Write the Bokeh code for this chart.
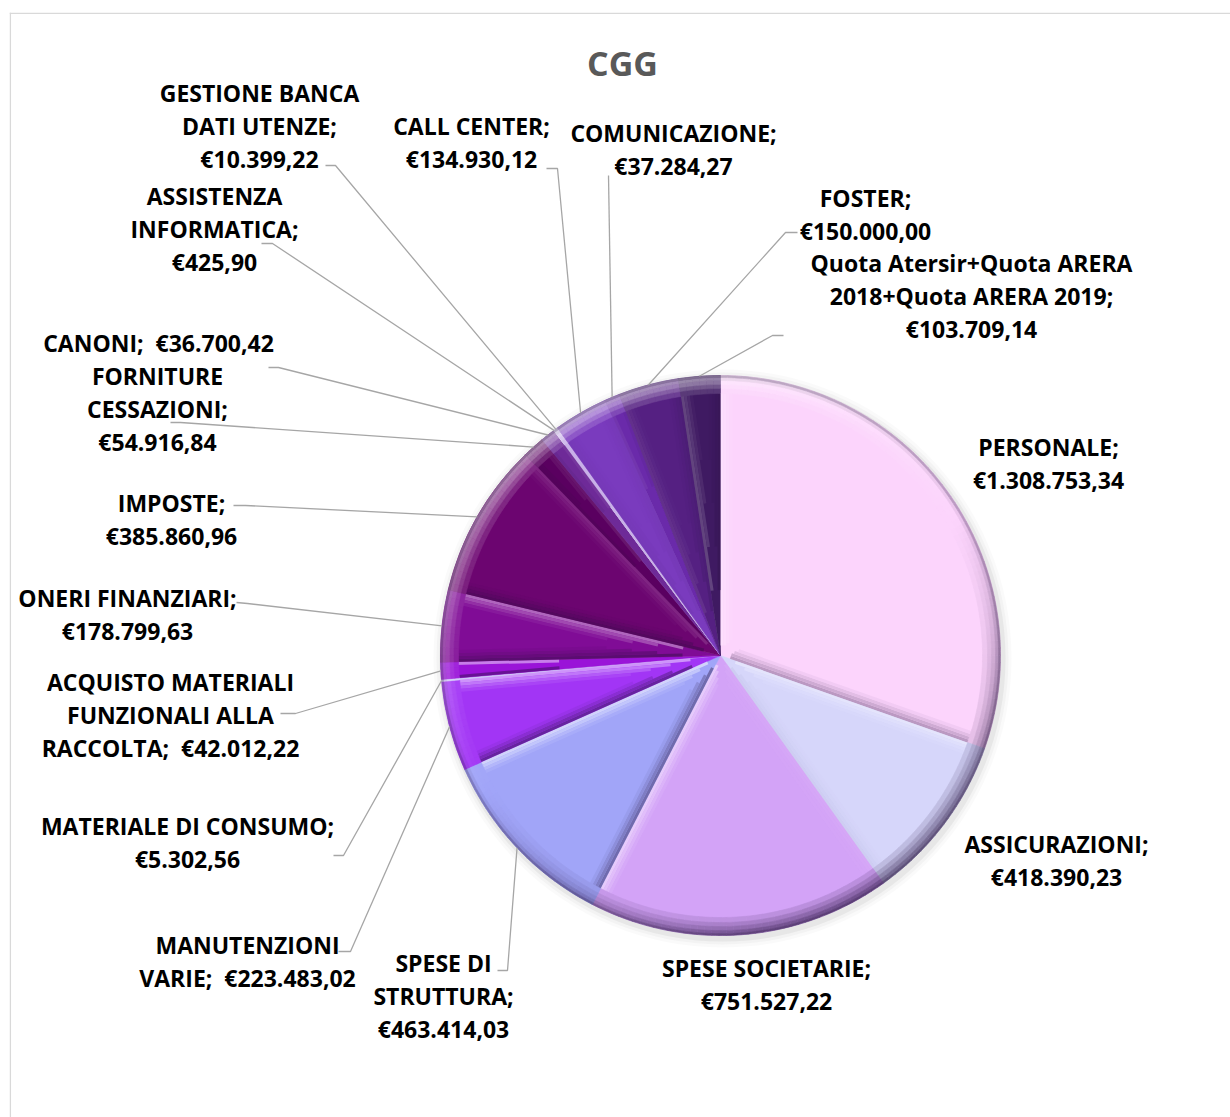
import math
from bokeh.plotting import figure
from bokeh.models import Range1d, ColumnDataSource, Span
from bokeh.embed import file_html
from bokeh.resources import INLINE
from bokeh.core.properties import value

# ---------------- data ----------------
chart_title = "CGG"
categories = [
    "PERSONALE", "ASSICURAZIONI", "SPESE SOCIETARIE", "SPESE DI\nSTRUTTURA",
    "MANUTENZIONI\nVARIE", "MATERIALE DI CONSUMO",
    "ACQUISTO MATERIALI\nFUNZIONALI ALLA\nRACCOLTA", "ONERI FINANZIARI",
    "IMPOSTE", "FORNITURE\nCESSAZIONI", "CANONI", "ASSISTENZA\nINFORMATICA",
    "GESTIONE BANCA\nDATI UTENZE", "CALL CENTER", "COMUNICAZIONE", "FOSTER",
    "Quota Atersir+Quota ARERA\n2018+Quota ARERA 2019",
]
values = [1308753.34, 418390.23, 751527.22, 463414.03, 223483.02, 5302.56,
          42012.22, 178799.63, 385860.96, 54916.84, 36700.42, 425.90,
          10399.22, 134930.12, 37284.27, 150000.00, 103709.14]
value_sep = ["\n", "\n", "\n", "\n", "  ", "\n", "  ", "\n", "\n", "\n", "  ",
             "\n", "\n", "\n", "\n", "\n", "\n"]
colors = ["#FCD4FC", "#D6D6FA", "#D3A3F7", "#A1A5F8", "#A235F5", "#D0C8F8",
          "#9A14D8", "#800C96", "#6C0570", "#5A0060", "#6E2A98", "#E4E0F4",
          "#C8B0E8", "#7A3BBE", "#6A2AAA", "#552082", "#3F1A62"]

# ---------------- layout (image pixel coords) ----------------
CX, CY, R = 720, 655, 280
LINE_H = 33
label_centers = [(1048, 462.5), (1056, 859.5), (766, 984), (443, 995.5),
                 (247, 961), (187, 842), (170, 714), (127, 614), (171, 518.5),
                 (157, 408), (158, 342), (214, 228.5), (259, 125),
                 (471, 141.5), (673, 148.5), (865, 213.5), (971, 295.5)]
leader_start = [None, None, None, (497, 970, 507, 970), (338, 951, 350, 951),
                (333, 855, 343, 855), (280, 713, 295, 713), (236, 602, 247, 603),
                (233, 505, 245, 505), (170, 422, 180, 422), (268, 367, 278, 367),
                (261, 243, 272, 243), (325, 165, 335, 165), (546, 168, 557, 168),
                (608, 175, 608, 175), (797, 232, 785, 232), (783, 335, 772, 335)]
FONT = "Open Sans"
FS = "23px"


def eur(v):
    s = f"{v:,.2f}"
    return "€" + s.replace(",", "X").replace(".", ",").replace("X", ".")


def hex2rgb(h):
    h = h.lstrip("#")
    return [int(h[i:i + 2], 16) for i in (0, 2, 4)]


def mix(c, t, f):
    a, b = hex2rgb(c), hex2rgb(t)
    f = max(0.0, min(1.0, f))
    return "#%02x%02x%02x" % tuple(int(round(a[k] + (b[k] - a[k]) * f)) for k in range(3))


DARK = "#24103a"


def shade(c, d):
    if d >= 0:
        return mix(c, "#FFFFFF", 0.6 * d)
    return mix(c, DARK, 0.55 * (-d))


LX, LY = -0.5, -0.866  # light direction (image coords, y down)

total = sum(values)
t_start, t_end = [], []
acc = 0.0
for v in values:
    t_start.append(acc / total * 2 * math.pi)
    acc += v
    t_end.append(acc / total * 2 * math.pi)

p = figure(width=1230, height=1117, x_range=Range1d(9, 1230), y_range=Range1d(-1117, -12),
           output_backend="svg", toolbar_location=None, x_axis_location=None,
           y_axis_location=None, min_border_left=9, min_border_top=12,
           min_border_right=0, min_border_bottom=0)
p.grid.visible = False
p.outline_line_color = None
p.background_fill_color = "white"
p.add_layout(Span(location=9.8, dimension="height", line_color="#D9D9D9", line_width=1.5))
p.add_layout(Span(location=-12.8, dimension="width", line_color="#D9D9D9", line_width=1.5))

# shadow
for k, a in [(9, 0.04), (6, 0.06), (3, 0.10)]:
    p.circle(x=CX + 2, y=-(CY + 3), radius=R + k, fill_color="#808080", fill_alpha=a,
             line_color=None)

# base wedges
src = ColumnDataSource(dict(
    s=[math.pi / 2 - b for b in t_end],
    e=[math.pi / 2 - a for a in t_start],
    c=colors))
p.wedge(x=CX, y=-CY, radius=R, start_angle="s", end_angle="e", direction="anticlock",
        fill_color="c", line_color="c", line_width=0.5, source=src)

# edge bevel bands
bx0, by0, bx1, by1, bc, bw = [], [], [], [], [], []
for i, c in enumerate(colors):
    ang = t_end[i] - t_start[i]
    if ang < 0.02:
        continue
    for t, sgn in ((t_start[i], -1), (t_end[i], 1)):
        nx, ny = sgn * math.cos(t), sgn * math.sin(t)  # outward normal
        d = nx * LX + ny * LY
        ux, uy = math.sin(t), -math.cos(t)
        for off, w, st in ((1.5, 3, 1.0), (4.5, 3, 0.7), (7.5, 3, 0.4), (10.5, 3, 0.15)):
            rmin = max(10, (off + w) * 2.2 / ang)
            if rmin > 240:
                continue
            ox, oy = -nx * off, -ny * off
            bx0.append(CX + rmin * ux + ox); by0.append(-(CY + rmin * uy + oy))
            bx1.append(CX + 266 * ux + ox); by1.append(-(CY + 266 * uy + oy))
            bc.append(shade(c, d * st)); bw.append(w)
p.segment(x0=bx0, y0=by0, x1=bx1, y1=by1, line_color=bc, line_width=bw, line_alpha=0.85)

# rim bevel rings
ring_edges = [262, 267, 271, 275, 278, 280]
ring_strength = [0.25, 0.5, 0.75, 0.95, 1.0]
ring_dark = [0.0, 0.0, 0.0, 0.08, 0.3]
rr = dict(r0=[], r1=[], s=[], e=[], c=[])
for i, c in enumerate(colors):
    deg = math.degrees(t_end[i] - t_start[i])
    n = max(1, int(math.ceil(deg / 1.5)))
    for k in range(n):
        ta = t_start[i] + (t_end[i] - t_start[i]) * k / n
        tb = t_start[i] + (t_end[i] - t_start[i]) * (k + 1) / n
        tm = (ta + tb) / 2
        d = math.sin(tm) * LX - math.cos(tm) * LY
        for j in range(len(ring_strength)):
            col = mix(shade(c, d * ring_strength[j]), DARK, ring_dark[j])
            rr["r0"].append(ring_edges[j]); rr["r1"].append(ring_edges[j + 1])
            rr["s"].append(math.pi / 2 - tb); rr["e"].append(math.pi / 2 - ta)
            rr["c"].append(col)
p.annular_wedge(x=CX, y=-CY, inner_radius="r0", outer_radius="r1", start_angle="s",
                end_angle="e", direction="anticlock", fill_color="c", line_color="c",
                line_width=0.6, source=ColumnDataSource(rr))

# leader lines
lxs, lys = [], []
for i, ls in enumerate(leader_start):
    if ls is None:
        continue
    tm = (t_start[i] + t_end[i]) / 2
    ex, ey = CX + R * math.sin(tm), CY - R * math.cos(tm)
    lxs.append([ls[0], ls[2], ex])
    lys.append([-ls[1], -ls[3], -ey])
p.multi_line(xs=lxs, ys=lys, line_color="#A6A6A6", line_width=1.3)

# labels
tx, ty, tt = [], [], []
for i, cat in enumerate(categories):
    lines = (cat + ";" + value_sep[i] + eur(values[i])).split("\n")
    n = len(lines)
    cx, cy = label_centers[i]
    for k, ln in enumerate(lines):
        tx.append(cx)
        ty.append(-(cy + (k - (n - 1) / 2) * LINE_H))
        tt.append(ln.replace("  ", "\u00a0 "))
p.text(x=tx, y=ty, text=tt, text_font=value(FONT), text_font_style="bold",
       text_font_size=FS, text_align="center", text_baseline="middle", text_color="black")

p.text(x=[622], y=[-62], text=[chart_title], text_font=value(FONT), text_font_style="bold",
       text_font_size="34px", text_align="center", text_baseline="middle",
       text_color="#595959")

open("out.html", "w").write(file_html(p, INLINE))
